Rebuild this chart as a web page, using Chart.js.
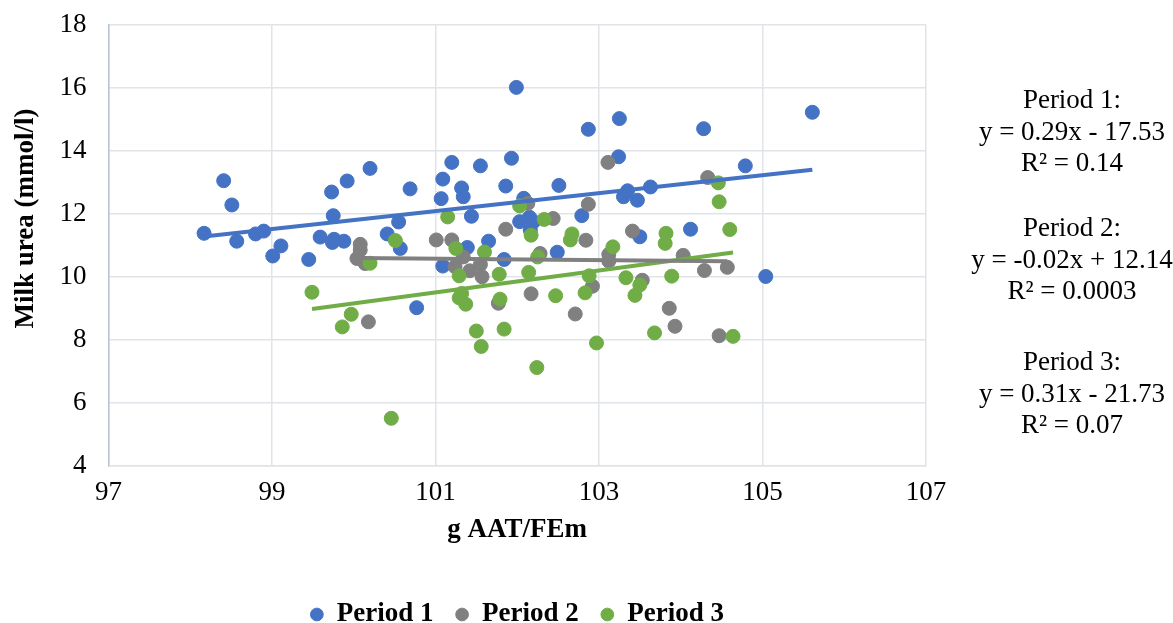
<!DOCTYPE html>
<html lang="en">
<head>
    <meta charset="UTF-8">
    <meta name="viewport" content="width=device-width, initial-scale=1.0">
    <title>Milk urea vs g AAT/FEm</title>
    <style>
        body {
            margin: 0;
            padding: 0;
            background: #fff;
            overflow: hidden;
            font-family: 'Liberation Serif', 'Times New Roman', serif;
        }

        .wrap {
            position: relative;
            width: 1173px;
            height: 623px;
        }

        .eq {
            position: absolute;
            left: 959px;
            width: 226px;
            text-align: center;
            font-size: 27px;
            line-height: 31.5px;
            color: #000;
            white-space: nowrap;
        }
    </style>
</head>
<body>
    <div class="wrap">
        <canvas id="chart" width="1173" height="623"></canvas>
        <div class="eq" style="top:84px">Period 1:<br>y = 0.29x - 17.53<br>R² = 0.14</div>
        <div class="eq" style="top:212px">Period 2:<br>y = -0.02x + 12.14<br>R² = 0.0003</div>
        <div class="eq" style="top:346px">Period 3:<br>y = 0.31x - 21.73<br>R² = 0.07</div>
    </div>
    <script src="https://cdn.jsdelivr.net/npm/chart.js@4.4.1/dist/chart.umd.min.js"></script>
    <script>
        // values: g AAT/FEm (x) and milk urea mmol/l (y)
        const p1x = [98.17, 98.41, 98.51, 98.57, 98.80, 98.90, 99.01, 99.11, 99.45, 99.59,
                     99.73, 99.75, 99.76, 99.74, 99.88, 99.92, 100.20, 100.41, 100.55, 100.57,
                     100.69, 100.77, 101.07, 101.09, 101.09, 101.20, 101.32, 101.34, 101.39, 101.44,
                     101.55, 101.65, 101.84, 101.86, 101.93, 101.99, 102.03, 102.08, 102.15, 102.20,
                     102.16, 102.49, 102.51, 102.79, 102.87, 103.24, 103.25, 103.30, 103.35, 103.47,
                     103.50, 103.63, 104.12, 104.28, 104.79, 105.04, 105.61];
        const p1y = [11.39, 13.06, 12.29, 11.14, 11.37, 11.46, 10.67, 10.99, 10.56, 11.27,
                     12.70, 11.95, 11.20, 11.10, 11.14, 13.05, 13.45, 11.37, 11.75, 10.91,
                     12.80, 9.03, 12.49, 13.11, 10.35, 13.64, 12.83, 12.55, 10.94, 11.93,
                     13.53, 11.14, 10.56, 12.89, 13.77, 16.02, 11.76, 12.50, 11.90, 11.76,
                     11.49, 10.79, 12.91, 11.95, 14.69, 13.82, 15.03, 12.55, 12.74, 12.44,
                     11.28, 12.86, 11.52, 14.71, 13.53, 10.02, 15.23];

        const p2x = [100.08, 100.08, 100.04, 100.14, 100.18, 101.01, 101.20, 101.24, 101.34, 101.42,
                     101.55, 101.57, 101.77, 101.86, 102.13, 102.17, 102.28, 102.44, 102.71, 102.84,
                     102.87, 102.92, 103.11, 103.12, 103.12, 103.41, 103.53, 103.86, 103.93, 104.03,
                     104.29, 104.33, 104.47, 104.57];
        const p2y = [11.04, 10.86, 10.59, 10.43, 8.58, 11.18, 11.18, 10.33, 10.64, 10.20,
                     10.40, 10.01, 9.17, 11.52, 12.34, 9.47, 10.75, 11.86, 8.83, 11.17,
                     12.31, 9.71, 13.64, 10.72, 10.51, 11.46, 9.90, 9.01, 8.44, 10.69,
                     10.21, 13.16, 8.14, 10.31];

        const p3x = [99.49, 99.86, 99.97, 100.20, 100.46, 100.51, 101.15, 101.25, 101.29, 101.32,
                     101.29, 101.37, 101.50, 101.56, 101.60, 101.78, 101.79, 101.84, 102.03, 102.14,
                     102.17, 102.24, 102.25, 102.33, 102.47, 102.65, 102.67, 102.83, 102.88, 102.97,
                     103.17, 103.33, 103.44, 103.50, 103.68, 103.81, 103.82, 103.89, 104.46, 104.47,
                     104.60, 104.64];
        const p3y = [9.52, 8.42, 8.82, 10.44, 5.52, 11.16, 11.91, 10.91, 10.04, 9.48,
                     9.34, 9.14, 8.29, 7.80, 10.80, 10.09, 9.30, 8.35, 12.26, 10.15,
                     11.33, 7.13, 10.64, 11.83, 9.41, 11.18, 11.37, 9.50, 10.04, 7.91,
                     10.96, 9.98, 9.42, 9.75, 8.23, 11.07, 11.39, 10.03, 12.99, 12.39,
                     11.51, 8.12];

        const seriesNames = ['Period 1', 'Period 2', 'Period 3'];
        const colors = ['#4472C4', '#808080', '#70AD47'];

        const toPoints = (xs, ys) => xs.map((x, i) => ({x: x, y: ys[i]}));

        // least squares trendline, drawn across the series' x range like Excel
        function trend(xs, ys) {
            const n = xs.length;
            const mx = xs.reduce((a, b) => a + b, 0) / n;
            const my = ys.reduce((a, b) => a + b, 0) / n;
            let sxy = 0, sxx = 0;
            xs.forEach((x, i) => {
                sxy += (x - mx) * (ys[i] - my);
                sxx += (x - mx) * (x - mx);
            });
            const b = sxy / sxx;
            const a = my - b * mx;
            const lo = Math.min(...xs), hi = Math.max(...xs);
            return [{x: lo, y: a + b * lo}, {x: hi, y: a + b * hi}];
        }

        const allX = [p1x, p2x, p3x];
        const allY = [p1y, p2y, p3y];

        const datasets = [];
        seriesNames.forEach((name, i) => {
            datasets.push({
                type: 'scatter',
                label: name,
                data: toPoints(allX[i], allY[i]),
                backgroundColor: colors[i],
                borderColor: colors[i],
                borderWidth: 1,
                pointRadius: 7,
                pointHoverRadius: 7,
                order: 3 - i
            });
        });
        seriesNames.forEach((name, i) => {
            datasets.push({
                type: 'line',
                label: name + ' trend',
                data: trend(allX[i], allY[i]),
                borderColor: colors[i],
                borderWidth: 4,
                pointRadius: 0,
                fill: false,
                order: 0
            });
        });

        Chart.defaults.font.family = "'Liberation Serif', 'Times New Roman', serif";
        Chart.defaults.font.size = 27;
        Chart.defaults.color = '#000';

        const ctx = document.getElementById('chart').getContext('2d');
        new Chart(ctx, {
            type: 'scatter',
            data: {datasets: datasets},
            options: {
                responsive: false,
                animation: false,
                layout: {
                    padding: {left: 10, right: 247, top: 25, bottom: -15}
                },
                plugins: {
                    legend: {
                        position: 'bottom',
                        fullSize: false,
                        labels: {
                            usePointStyle: true,
                            boxWidth: 13,
                            boxHeight: 9,
                            padding: 22,
                            font: {weight: 'bold', size: 27, lineHeight: 1},
                            filter: item => item.datasetIndex < 3,
                            sort: (a, b) => a.datasetIndex - b.datasetIndex
                        }
                    },
                    tooltip: {enabled: false}
                },
                scales: {
                    x: {
                        type: 'linear',
                        min: 97,
                        max: 107,
                        ticks: {stepSize: 2, padding: 11},
                        grid: {color: '#e0e3e8', lineWidth: 1.5, drawTicks: false},
                        border: {color: '#e0e3e8', width: 1.5},
                        title: {
                            display: true,
                            text: 'g AAT/FEm',
                            font: {weight: 'bold', size: 27},
                            padding: {top: -7, bottom: 33}
                        }
                    },
                    y: {
                        type: 'linear',
                        min: 4,
                        max: 18,
                        ticks: {stepSize: 2, padding: 22},
                        grid: {color: '#e0e3e8', lineWidth: 1.5, drawTicks: false},
                        border: {color: '#b8c3d4', width: 1.5},
                        title: {
                            display: true,
                            // leading spaces lift the title a little, as in the original
                            text: '\u00A0\u00A0\u00A0\u00A0\u00A0\u00A0\u00A0\u00A0Milk urea (mmol/l)',
                            font: {weight: 'bold', size: 27},
                            padding: {top: 0, bottom: -5}
                        },
                        // tick padding would otherwise push the plot top down
                        afterFit: scale => {
                            scale.paddingTop = 0;
                            scale.paddingBottom = 0;
                        }
                    }
                }
            }
        });
    </script>
</body>
</html>
